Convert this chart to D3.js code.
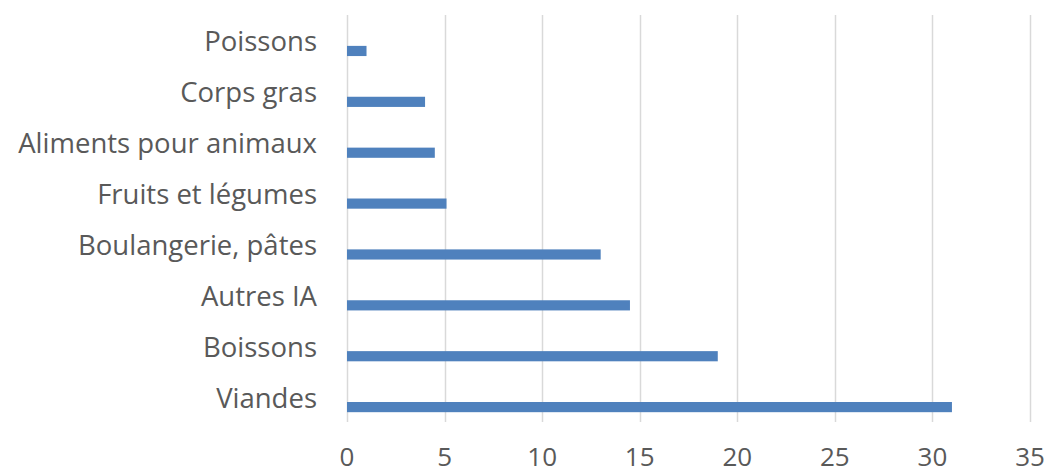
<!DOCTYPE html>
<html>
<head>
<meta charset="utf-8">
<script src="https://cdn.jsdelivr.net/npm/d3@7"></script>
<style>
  html, body { margin: 0; padding: 0; background: #ffffff; }
  svg { display: block; }
  text { font-family: "Open Sans", Lato, sans-serif; fill: #595959; }
</style>
</head>
<body>
<svg id="chart" width="1051" height="474"></svg>
<script>
// Categories from top to bottom, and their values
const categories = [
  "Poissons",
  "Corps gras",
  "Aliments pour animaux",
  "Fruits et légumes",
  "Boulangerie, pâtes",
  "Autres IA",
  "Boissons",
  "Viandes"
];
const values = [1, 4, 4.5, 5.1, 13, 14.5, 19, 31];
const xTicks = [0, 5, 10, 15, 20, 25, 30, 35];

const width = 1051, height = 474;
const margin = { top: 15, right: 21, bottom: 52, left: 347 };

const svg = d3.select("#chart");

const x = d3.scaleLinear()
  .domain([0, 35])
  .range([margin.left, width - margin.right]);

const y = d3.scaleBand()
  .domain(categories)
  .range([margin.top, height - margin.bottom])
  .paddingInner(0)
  .paddingOuter(0);

// vertical gridlines
svg.append("g")
  .selectAll("line")
  .data(xTicks)
  .join("line")
  .attr("x1", d => Math.round(x(d)) + 0.5)
  .attr("x2", d => Math.round(x(d)) + 0.5)
  .attr("y1", margin.top)
  .attr("y2", height - margin.bottom)
  .attr("stroke", "#d9d9d9")
  .attr("stroke-width", 1.5);

// bars sit in the lower part of each category band
const bw = y.bandwidth();
svg.append("g")
  .selectAll("rect")
  .data(categories.map((c, i) => ({ c, v: values[i] })))
  .join("rect")
  .attr("x", x(0))
  .attr("y", d => y(d.c) + bw * 0.607)
  .attr("width", d => x(d.v) - x(0))
  .attr("height", bw * 0.2)
  .attr("fill", "#4f81bd");

// category labels
svg.append("g")
  .selectAll("text")
  .data(categories)
  .join("text")
  .attr("x", 317)
  .attr("y", d => y(d) + bw / 2 + 11)
  .attr("text-anchor", "end")
  .attr("font-size", 27.5)
  .text(d => d);

// x axis tick labels
svg.append("g")
  .selectAll("text")
  .data(xTicks)
  .join("text")
  .attr("x", d => x(d))
  .attr("y", 466)
  .attr("text-anchor", "middle")
  .attr("font-size", 26)
  .text(d => d);
</script>
</body>
</html>
